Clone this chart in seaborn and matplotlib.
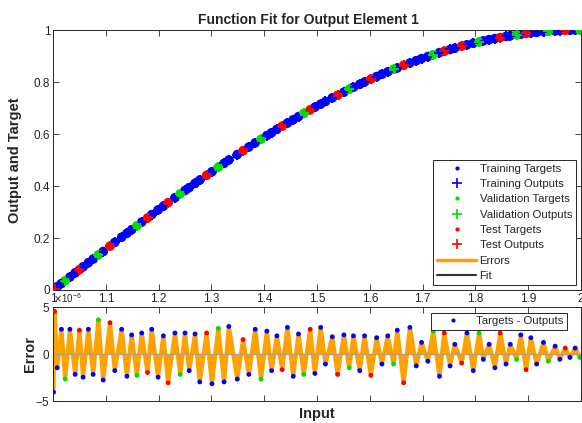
import numpy as np
import pandas as pd
import matplotlib
matplotlib.use("Agg")
import matplotlib.pyplot as plt
import seaborn as sns
from matplotlib.lines import Line2D
from matplotlib.ticker import ScalarFormatter

# ---------------- data ----------------
sample_input = [
    1.001, 1.003, 1.008, 1.016, 1.023, 1.032, 1.042, 1.050, 1.057, 1.067,
    1.076, 1.086, 1.095, 1.108, 1.117, 1.130, 1.140, 1.149, 1.159, 1.168,
    1.179, 1.187, 1.199, 1.209, 1.218, 1.231, 1.241, 1.250, 1.258, 1.269,
    1.278, 1.291, 1.301, 1.313, 1.324, 1.333, 1.349, 1.360, 1.371, 1.383,
    1.394, 1.405, 1.414, 1.424, 1.434, 1.444, 1.455, 1.465, 1.475, 1.487,
    1.496, 1.507, 1.516, 1.529, 1.539, 1.551, 1.561, 1.569, 1.581, 1.590,
    1.602, 1.613, 1.623, 1.634, 1.645, 1.652, 1.664, 1.676, 1.688, 1.698,
    1.710, 1.720, 1.732, 1.741, 1.752, 1.761, 1.774, 1.784, 1.796, 1.807,
    1.815, 1.826, 1.837, 1.847, 1.858, 1.866, 1.878, 1.886, 1.896, 1.905,
    1.916, 1.929, 1.938, 1.951, 1.960, 1.970, 1.979, 1.989, 1.998,
]
sample_target = [
    0.002, 0.005, 0.013, 0.025, 0.036, 0.050, 0.066, 0.078, 0.089, 0.105,
    0.119, 0.135, 0.148, 0.169, 0.183, 0.203, 0.218, 0.232, 0.247, 0.261,
    0.277, 0.290, 0.308, 0.322, 0.336, 0.355, 0.370, 0.383, 0.394, 0.410,
    0.423, 0.441, 0.455, 0.472, 0.487, 0.500, 0.521, 0.536, 0.550, 0.566,
    0.580, 0.594, 0.605, 0.618, 0.630, 0.642, 0.655, 0.667, 0.679, 0.693,
    0.703, 0.715, 0.725, 0.739, 0.749, 0.761, 0.772, 0.780, 0.791, 0.800,
    0.811, 0.821, 0.830, 0.839, 0.849, 0.854, 0.864, 0.873, 0.882, 0.890,
    0.898, 0.905, 0.913, 0.918, 0.925, 0.930, 0.938, 0.943, 0.949, 0.954,
    0.958, 0.963, 0.967, 0.971, 0.975, 0.978, 0.982, 0.984, 0.987, 0.989,
    0.991, 0.994, 0.995, 0.997, 0.998, 0.999, 0.999, 1.000, 1.000,
]
# errors (targets - outputs) in units of 1e-6
sample_error_e6 = [
    -4.1, 4.5, -1.5, 2.6, -2.7, 2.6, -2.2, 2.5, -2.5, 2.6,
    -2.2, 3.6, -2.8, 3.3, -1.8, 2.6, -2.4, 2.0, -2.3, 2.2,
    -2.0, 2.6, -2.5, 1.9, -3.1, 2.2, -2.2, 2.2, -1.8, 2.1,
    -3.0, 2.2, -3.2, 2.7, -3.0, 2.9, -2.7, 1.5, -2.2, 2.6,
    -2.7, 2.4, -1.8, 1.9, -1.7, 2.8, -2.4, 2.1, -2.2, 2.6,
    -2.1, 2.8, -1.1, 1.8, -2.2, 2.0, -1.5, 1.9, -1.8, 1.9,
    -2.3, 1.7, -1.1, 1.9, -1.1, 2.5, -3.1, 2.8, -1.3, 1.2,
    -0.8, 2.4, -2.4, 2.2, -1.3, 1.0, -1.0, 2.2, -1.8, 2.2,
    -0.6, 1.0, -1.5, 2.2, -1.1, 1.0, -0.6, 2.0, -1.7, 1.7,
    -1.1, 1.2, -0.8, 0.8, -0.6, 0.6, -0.4, 0.6, -0.4,
]
# T = training, V = validation, S = test
sample_split = ("TSTTVTTSTT" "TVTSTTTTVT" "STTTSTVTTT" "TSTVTTTSTT" "VTTTSTTTVS"
                "TTTTSTVTTT" "STTTVTSTTT" "TVTSTTSTTV" "TTTSTTVTST" "TTVTTSTTV")

split_names = {"T": "Training", "V": "Validation", "S": "Test"}
split_order = ["T", "V", "S"]

chart_title = "Function Fit for Output Element 1"
top_ylabel = "Output and Target"
bottom_ylabel = "Error"
bottom_xlabel = "Input"
x_ticks = [1.0, 1.1, 1.2, 1.3, 1.4, 1.5, 1.6, 1.7, 1.8, 1.9, 2.0]
x_tick_labels = ["1", "1.1", "1.2", "1.3", "1.4", "1.5", "1.6", "1.7", "1.8", "1.9", "2"]
top_y_ticks = [0.0, 0.2, 0.4, 0.6, 0.8, 1.0]
top_y_tick_labels = ["0", "0.2", "0.4", "0.6", "0.8", "1"]
err_ticks = [-5e-6, 0.0, 5e-6]

# ---------------- styling ----------------
sns.set_style("ticks")
plt.rcParams["font.family"] = ["Liberation Sans", "DejaVu Sans"]
plt.rcParams["axes.unicode_minus"] = False

split_colors = {"T": "#0000ff", "V": "#00dd00", "S": "#ff0000"}
orange = "#ffa200"
axis_gray = "#262626"

df = pd.DataFrame({
    "input": sample_input,
    "target": sample_target,
    "error": np.array(sample_error_e6) * 1e-6,
    "split": list(sample_split),
})
df["output"] = df["target"] - df["error"]

fig = plt.figure(figsize=(5.82, 4.23), dpi=100)
W, H = 582.0, 423.0
ax1 = fig.add_axes([53 / W, 1 - 290 / H, 528 / W, 260 / H])
ax2 = fig.add_axes([53 / W, 1 - 400.7 / H, 528 / W, 94 / H])

# ---- top panel ----
sns.lineplot(data=df, x="input", y="output", color="black", lw=1.3,
             estimator=None, ax=ax1, zorder=1)
for sp in split_order:
    sub = df[df["split"] == sp]
    c = split_colors[sp]
    sns.scatterplot(data=sub, x="input", y="target", color=c, marker="o",
                    s=48, edgecolor="none", ax=ax1, zorder=2, legend=False)
    sns.scatterplot(data=sub, x="input", y="output", color=c, marker="+",
                    s=62, linewidth=1.4, ax=ax1, zorder=3, legend=False)

ax1.set_xlim(1, 2)
ax1.set_ylim(0, 1)
ax1.set_xticks(x_ticks)
ax1.set_xticklabels(x_tick_labels)
ax1.set_yticks(top_y_ticks)
ax1.set_yticklabels(top_y_tick_labels)
ax1.set_xlabel("")
ax1.set_ylabel(top_ylabel, fontsize=10.5, fontweight="bold")
ax1.yaxis.set_label_coords(-0.059, 0.5)
ax1.set_title(chart_title, fontsize=10, fontweight="bold", pad=4, x=0.484)

handles1 = []
for sp in split_order:
    c = split_colors[sp]
    handles1.append(Line2D([], [], ls="none", marker=".", markersize=4, color=c,
                           label=f"{split_names[sp]} Targets"))
    handles1.append(Line2D([], [], ls="none", marker="+", markersize=7, mew=1.2,
                           color=c, label=f"{split_names[sp]} Outputs"))
handles1.append(Line2D([], [], color=orange, lw=2.5, label="Errors"))
handles1.append(Line2D([], [], color="#333333", lw=1.5, label="Fit"))
leg1 = ax1.legend(handles=handles1, loc="lower right",
                  bbox_to_anchor=(1 - 5 / 528, 5 / 260), borderaxespad=0,
                  fontsize=8.2, frameon=True, fancybox=False, framealpha=1,
                  edgecolor=axis_gray, labelspacing=0.47, handlelength=3.4,
                  handletextpad=0.3, borderpad=0.35)
leg1.get_frame().set_linewidth(0.7)

# ---- bottom panel ----
ax2.fill_between(df["input"], df["error"], 0, color=orange, lw=0,
                 interpolate=True, zorder=1)
sns.lineplot(data=df, x="input", y="error", color=orange, lw=3.0,
             estimator=None, ax=ax2, zorder=2)
ax2.axhline(0, color="#b39c7a", lw=0.9, zorder=2.5)
for sp in split_order:
    sub = df[df["split"] == sp]
    sns.scatterplot(data=sub, x="input", y="error", color=split_colors[sp],
                    marker="o", s=12, edgecolor="none", ax=ax2, zorder=3,
                    legend=False)

ax2.set_xlim(1, 2)
ax2.set_ylim(-5e-6, 5e-6)
ax2.set_xticks(x_ticks)
ax2.tick_params(labelbottom=False)
ax2.set_yticks(err_ticks)
fmt = ScalarFormatter(useMathText=True)
fmt.set_powerlimits((0, 0))
ax2.yaxis.set_major_formatter(fmt)
ax2.yaxis.get_offset_text().set_fontsize(7)
ax2.yaxis.get_offset_text().set_color(axis_gray)
ax2.set_ylabel(bottom_ylabel, fontsize=10.5, fontweight="bold")
ax2.yaxis.set_label_coords(-0.03, 0.5)
ax2.set_xlabel(bottom_xlabel, fontsize=10.5, fontweight="bold")
ax2.xaxis.set_label_coords(0.5, -0.065)

handles2 = [Line2D([], [], ls="none", marker=".", markersize=4,
                   color=split_colors["T"], label="Targets - Outputs")]
leg2 = ax2.legend(handles=handles2, loc="upper right",
                  bbox_to_anchor=(1 - 14 / 528, 1 - 6 / 94), borderaxespad=0,
                  fontsize=8.2, frameon=True, fancybox=False, framealpha=1,
                  edgecolor=axis_gray, handlelength=3.4, handletextpad=0.3,
                  borderpad=0.3)
leg2.get_frame().set_linewidth(0.7)

for ax in (ax1, ax2):
    ax.tick_params(direction="in", top=True, right=True, length=4, width=0.6,
                   colors=axis_gray, labelsize=8.5, pad=2)
    for s in ax.spines.values():
        s.set_visible(True)
        s.set_linewidth(0.7)
        s.set_color(axis_gray)

fig.savefig("out.png", dpi=100)
